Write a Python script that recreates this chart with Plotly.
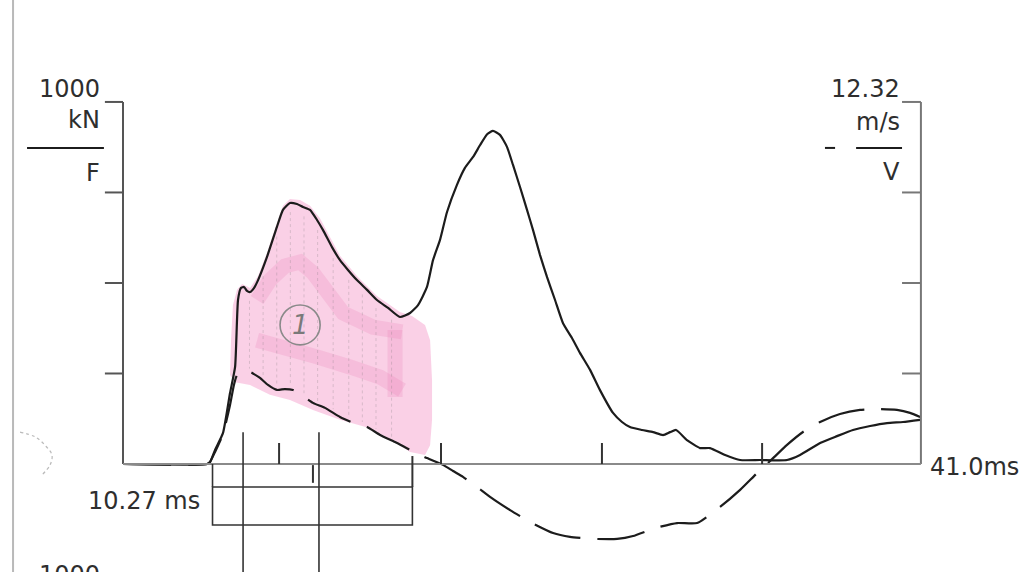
import numpy as np
import plotly.graph_objects as go

# ---- measured signals -------------------------------------------------------
# Force (kN) versus time (ms)
force_t = [0.00, 4.32, 4.47, 4.73, 5.14, 5.50, 5.76, 5.91, 6.06, 6.22, 6.37, 6.53,
           6.73, 6.94, 7.40, 7.91, 8.22, 8.58, 8.94, 9.25, 9.61, 9.97, 10.28, 10.74,
           11.15, 11.56, 12.02, 12.54, 13.05, 13.62, 14.23, 14.75, 15.16, 15.62, 15.93,
           16.29, 16.65, 17.16, 17.57, 17.99, 18.35, 18.71, 19.01, 19.37, 19.73, 20.04,
           20.40, 20.76, 21.07, 21.43, 21.79, 22.20, 22.61, 23.07, 23.48, 24.00, 24.51,
           25.18, 25.64, 26.05, 26.67, 27.24, 27.75, 28.11, 28.42, 28.98, 29.65, 30.16,
           30.94, 31.71, 32.73, 34.12, 34.79, 35.82, 36.69, 37.51, 38.39, 39.26, 40.08,
           40.96]
force_kn = [0, 0, 5, 39, 86, 196, 268, 453, 486, 489, 478, 475,
            486, 508, 572, 655, 702, 721, 718, 710, 702, 674, 646, 599,
            563, 536, 508, 481, 453, 431, 406, 417, 439, 489, 563,
            619, 696, 771, 818, 848, 881, 911, 920, 909, 876, 826,
            765, 702, 646, 577, 516, 453, 389, 348, 307, 260, 204,
            141, 116, 102, 94, 88, 80, 88, 94, 66, 44, 44,
            25, 11, 11, 11, 25, 58, 77, 94, 105, 113, 116,
            122]

# Velocity (m/s) versus time (ms)
vel_t = [0.00, 4.32, 4.47, 4.73, 5.14, 5.50, 5.70, 5.86, 6.06, 6.27, 6.53, 6.73,
         7.04, 7.45, 7.91, 8.32, 8.74, 9.25, 9.76, 10.38, 11.15, 11.82, 12.54, 13.21,
         13.98, 14.75, 15.62, 16.44, 16.96, 17.47, 18.19, 18.86, 19.89, 20.91, 22.10,
         22.97, 24.26, 25.39, 26.21, 27.34, 28.47, 29.50, 30.68, 31.71, 32.58, 33.25,
         34.12, 34.94, 35.82, 36.84, 37.87, 38.90, 39.77, 40.44, 40.96]
vel_ms = [0.00, 0.00, 0.07, 0.41, 1.02, 2.01, 2.69, 3.03, 3.10, 3.06, 3.13, 3.06,
          2.93, 2.69, 2.52, 2.55, 2.52, 2.31, 2.08, 1.91, 1.60, 1.40, 1.26, 0.99,
          0.75, 0.48, 0.20, -0.03, -0.24, -0.44, -0.78, -1.12, -1.57, -1.97, -2.35,
          -2.48, -2.55, -2.55, -2.45, -2.18, -2.01, -2.01, -1.46, -0.88, -0.31, 0.10,
          0.65, 1.09, 1.43, 1.70, 1.84, 1.87, 1.84, 1.74, 1.60]

# Scales and record length
F_MAX = 1000.0      # kN at top of the force scale
V_MAX = 12.32       # m/s at top of the velocity scale
T_END = 41.0        # ms
f_ticks = [250, 500, 750]

# Time markers on the time axis
tall_marks = [6.17, 10.07]
short_marks = [8.02, 16.34, 24.61, 32.84]
window_start = 4.60
window_len = 10.27
window_tick = 9.76

# Hand-drawn highlighter region (ms, kN)
hl_t = [5.50, 5.55, 5.65, 5.86, 6.12, 6.53, 6.94, 7.40, 7.91, 8.22, 8.58, 9.10, 9.61,
        10.12, 11.15, 12.02, 13.05, 14.23, 14.85, 15.52, 15.78, 15.88, 15.88, 15.78,
        15.52, 14.75, 13.98, 12.69, 11.15, 9.76, 8.58, 7.55, 6.53, 5.76]
hl_f = [246, 342, 439, 481, 497, 486, 519, 583, 666, 713, 732, 729, 713,
        679, 575, 519, 464, 420, 409, 384, 342, 232, 122, 52,
        25, 33, 61, 99, 122, 149, 177, 191, 218, 226]
band1_t = [6.89, 7.55, 8.32, 9.10, 9.76, 10.48, 11.31, 12.85, 14.34]
band1_f = [453, 508, 547, 558, 528, 472, 417, 378, 365]
band2_t = [6.89, 8.43, 9.97, 11.66, 13.21, 14.34]
band2_f = [342, 323, 296, 268, 240, 204]
band3_t = [13.98, 13.98]
band3_f = [370, 185]
hatch_t = [6.5, 7.2, 7.9, 8.6, 9.3, 10.0, 10.8, 11.6, 12.3, 13.0, 13.8]
circle_t, circle_f = 9.10, 384

# Pencil scribble in the left margin (ms, kN)
scribble_t = [-5.29, -4.52, -4.01, -3.65, -3.75, -4.16]
scribble_f = [88, 75, 52, 25, -3, -30]

# ---- page geometry (data units spanning the whole page) ----------------------
X_RANGE = [-6.32, 46.40]
Y_RANGE = [-298.3, 1281.6]
Y2_RANGE = [Y_RANGE[0] * V_MAX / F_MAX, Y_RANGE[1] * V_MAX / F_MAX]

INK = "#1c1c1c"
AXIS = "#6e6e6e"
TXT = "#2e2e2e"
FONT = "DejaVu Sans"

fig = go.Figure()

# highlighter
fig.add_trace(go.Scatter(x=hl_t, y=hl_f, fill="toself", mode="lines",
                         line=dict(width=0), fillcolor="rgba(247,176,214,0.60)",
                         hoverinfo="skip", showlegend=False))
for bt, bf in [(band1_t, band1_f), (band2_t, band2_f), (band3_t, band3_f)]:
    fig.add_trace(go.Scatter(x=bt, y=bf, mode="lines",
                             line=dict(width=15, color="rgba(236,130,185,0.24)"),
                             hoverinfo="skip", showlegend=False))

# pencil hatching between force and velocity traces
vel_as_f = np.array(vel_ms) * F_MAX / V_MAX
hx, hy = [], []
for t in hatch_t:
    top = np.interp(t, force_t, force_kn) - 25
    bot = np.interp(t, vel_t, vel_as_f) + 10
    hx += [t, t, None]
    hy += [top, bot, None]
fig.add_trace(go.Scatter(x=hx, y=hy, mode="lines",
                         line=dict(width=1, color="rgba(120,120,120,0.25)", dash="dot"),
                         hoverinfo="skip", showlegend=False))

fig.add_trace(go.Scatter(x=scribble_t, y=scribble_f, mode="lines",
                         line=dict(width=1.2, color="rgba(130,130,130,0.55)", dash="dot",
                                   shape="spline"),
                         hoverinfo="skip", showlegend=False))

# force (solid)
fig.add_trace(go.Scatter(x=force_t, y=force_kn, mode="lines",
                         line=dict(color=INK, width=2.2, shape="spline", smoothing=0.5),
                         name="F", showlegend=False))
# velocity (dashed, own scale)
fig.add_trace(go.Scatter(x=vel_t, y=vel_ms, mode="lines", yaxis="y2",
                         line=dict(color=INK, width=2.2, dash="48px,17px",
                                   shape="spline", smoothing=0.5),
                         name="V", showlegend=False))

shapes = []


def seg(x0, y0, x1, y1, color=AXIS, width=2, dash="solid", yref="y"):
    shapes.append(dict(type="line", xref="x", yref=yref, x0=x0, y0=y0, x1=x1, y1=y1,
                       line=dict(color=color, width=width, dash=dash)))


# frame
seg(0, 0, 0, F_MAX, color="#555555")
seg(T_END, 0, T_END, F_MAX, color="#777777")
seg(0, 0, T_END, 0, color="#8a8a8a")
seg(-0.93, F_MAX, 0, F_MAX, color="#555555")
seg(T_END - 0.97, F_MAX, T_END, F_MAX, color="#777777")
for f in f_ticks:
    seg(-0.93, f, 0, f, color="#555555")
    seg(T_END - 0.97, f, T_END, f, color="#777777")

# legend keys
seg(-4.93, 873, -0.98, 873, color=INK, width=2)
seg(36.07, 873, 36.59, 873, color=INK, width=2)
seg(37.67, 873, 40.03, 873, color=INK, width=2)

# time markers
for t in short_marks:
    seg(t, 58, t, 0, color="#333333", width=2)
for t in tall_marks:
    seg(t, 88, t, -300, color="#333333", width=1.6)

# measuring window
w0, w1 = window_start, window_start + window_len
seg(w0, 0, w0, -63.5, color="#333333", width=1.6)
seg(w1, 22, w1, -63.5, color="#333333", width=2)
seg(window_tick, -3, window_tick, -52, color="#333333", width=2)
shapes.append(dict(type="rect", xref="x", yref="y", x0=w0, x1=w1, y0=-63.5, y1=-168.5,
                   line=dict(color="#333333", width=1.6)))

# hand-drawn circle around the label
shapes.append(dict(type="circle", xref="x", yref="y",
                   x0=circle_t - 1.03, x1=circle_t + 1.03,
                   y0=circle_f - 55, y1=circle_f + 55,
                   line=dict(color="#8a8a8a", width=1.6)))

# page margin rule
shapes.append(dict(type="line", xref="x", yref="paper", x0=-5.65, x1=-5.65, y0=0, y1=1,
                   line=dict(color="#b9b9b9", width=2)))

annotations = []


def label(text, x, y, anchor="right", size=24, color=TXT, style="normal", yref="y"):
    annotations.append(dict(text=text, x=x, y=y, xref="x", yref=yref, showarrow=False,
                            xanchor=anchor, yanchor="middle",
                            font=dict(family=FONT, size=size, color=color, style=style)))


label("1000", -1.08, 1036)
label("kN", -1.08, 950)
label("F", -1.08, 804)
label("12.32", 40.03, 1036)
label("m/s", 40.03, 945)
label("V", 40.03, 806)
label(f"{T_END:.1f}ms", 41.37, -8, anchor="left")
label(f"{window_len:.2f} ms", 4.06, -102)
# heading of the next scale, running off the bottom of the page
label("1000", -1.08, -0.006, yref="paper")
label("1", circle_t, circle_f, anchor="center", size=26, color="#7a7a7a", style="italic")

fig.update_layout(
    width=1026, height=572,
    margin=dict(l=0, r=0, t=0, b=0),
    paper_bgcolor="white", plot_bgcolor="white",
    xaxis=dict(range=X_RANGE, visible=False, fixedrange=True),
    yaxis=dict(range=Y_RANGE, visible=False, fixedrange=True),
    yaxis2=dict(range=Y2_RANGE, visible=False, overlaying="y", fixedrange=True),
    shapes=shapes,
    annotations=annotations,
    showlegend=False,
)

fig.write_html("out.html")
